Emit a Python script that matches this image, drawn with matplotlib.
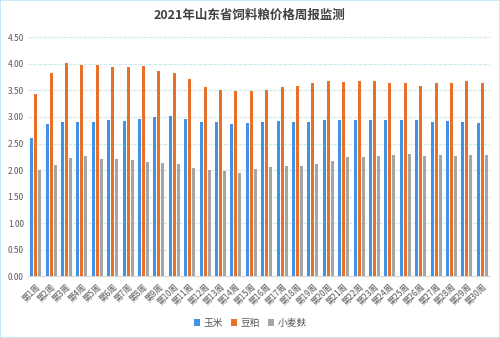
import numpy as np
import matplotlib.pyplot as plt

plt.rcParams['font.family'] = ['Noto Sans CJK SC', 'DejaVu Sans']

weeks = ['第%d周' % i for i in range(1, 31)]
corn = [2.61, 2.86, 2.91, 2.91, 2.91, 2.94, 2.92, 2.96, 2.99, 3.01,
        2.96, 2.91, 2.91, 2.87, 2.88, 2.90, 2.92, 2.91, 2.91, 2.94,
        2.94, 2.94, 2.95, 2.94, 2.95, 2.94, 2.91, 2.92, 2.90, 2.88]
soymeal = [3.44, 3.82, 4.02, 3.98, 3.98, 3.93, 3.93, 3.95, 3.86, 3.83,
           3.71, 3.56, 3.50, 3.49, 3.49, 3.50, 3.56, 3.58, 3.64, 3.67,
           3.65, 3.67, 3.67, 3.64, 3.63, 3.59, 3.63, 3.64, 3.67, 3.64]
bran = [2.00, 2.09, 2.23, 2.27, 2.21, 2.21, 2.19, 2.15, 2.13, 2.11,
        2.04, 2.01, 1.98, 1.95, 2.03, 2.06, 2.08, 2.08, 2.12, 2.18,
        2.24, 2.24, 2.26, 2.29, 2.30, 2.26, 2.28, 2.26, 2.28, 2.29]

x = np.arange(len(weeks))
width = 0.19
off = 0.26

fig = plt.figure(figsize=(5, 3.38), dpi=100)
ax = fig.add_axes([0.056, 0.182, 0.924, 0.708])

ax.bar(x - off, corn, width, color='#4393E4', label='玉米', zorder=3)
ax.bar(x, soymeal, width, color='#E8702A', label='豆粕', zorder=3)
ax.bar(x + off, bran, width, color='#A5A5A5', label='小麦麸', zorder=3)

ax.set_xlim(-0.5, len(weeks) - 0.5)
ax.set_ylim(0, 4.5)
ax.set_yticks(np.arange(0, 4.51, 0.5))
ax.set_yticklabels(['%.2f' % v for v in np.arange(0, 4.51, 0.5)])
ax.set_xticks(x)
ax.set_xticklabels(weeks, rotation=45, ha='right', rotation_mode='anchor')
ax.tick_params(axis='both', length=0, labelsize=6, colors='#595959', pad=3)
ax.tick_params(axis='x', pad=4)
ax.yaxis.grid(True, color='#cdecf2', linestyle=(0, (3, 1)), linewidth=0.9, zorder=0)

for s in ['top', 'right', 'left']:
    ax.spines[s].set_visible(False)
ax.spines['bottom'].set_color('#d9d9d9')

fig.suptitle('2021年山东省饲料粮价格周报监测', y=0.975, fontsize=9,
             fontweight='bold', color='#404040')

fig.legend(loc='center', bbox_to_anchor=(0.5, 0.044), ncol=3, frameon=False,
           fontsize=7, handlelength=0.7, handleheight=0.7, handletextpad=0.3,
           columnspacing=0.8, labelcolor='#595959')

fig.patches.append(plt.Rectangle((0, 0), 1, 1, transform=fig.transFigure,
                                 fill=False, edgecolor='#b8e8f2', linewidth=1.2))

fig.savefig('out.png', dpi=100)
